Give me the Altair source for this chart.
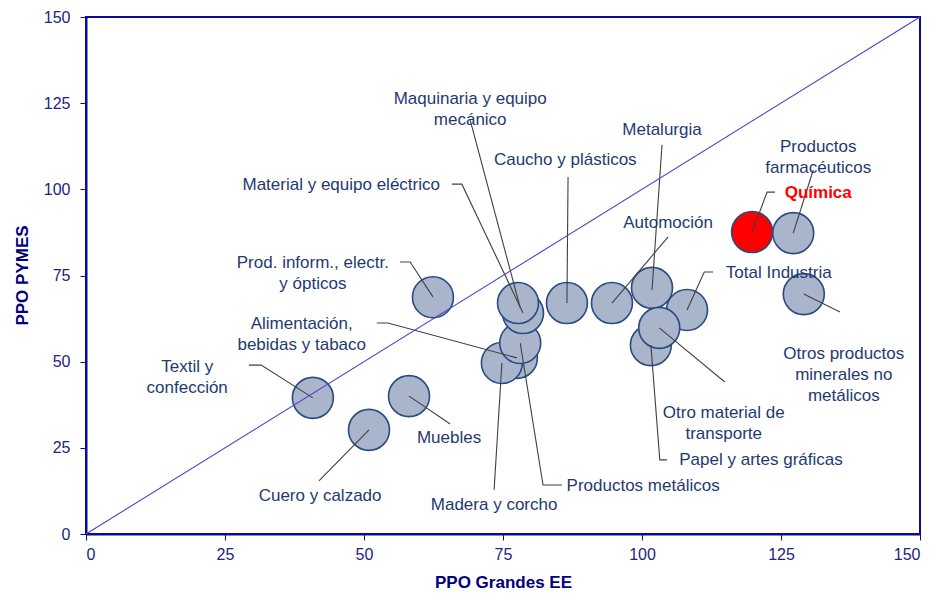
import altair as alt
import pandas as pd

# ---- data ----
sectors = [
    "Textil y confección", "Cuero y calzado", "Muebles", "Prod. inform., electr. y ópticos",
    "Alimentación, bebidas y tabaco", "Madera y corcho", "Productos metálicos",
    "Material y equipo eléctrico", "Maquinaria y equipo mecánico", "Caucho y plásticos",
    "Automoción", "Papel y artes gráficas", "Total Industria", "Metalurgia",
    "Otro material de transporte", "Química", "Productos farmacéuticos",
    "Otros productos minerales no metálicos",
]
ppo_grandes = [40.8, 50.9, 58.1, 62.4, 77.5, 74.8, 78.1, 78.6, 77.7, 86.5,
               94.6, 101.6, 108.1, 101.8, 103.1, 119.8, 127.2, 129.1]
ppo_pymes = [39.5, 30.2, 40.0, 68.7, 51.1, 49.6, 55.4, 64.1, 67.0, 67.0,
             67.0, 54.8, 65.0, 71.4, 59.8, 87.6, 87.3, 69.6]

label_text = [
    "Textil y\nconfección", "Cuero y calzado", "Muebles", "Prod. inform., electr.\ny ópticos",
    "Alimentación,\nbebidas y tabaco", "Madera y corcho", "Productos metálicos",
    "Material y equipo eléctrico", "Maquinaria y equipo\nmecánico", "Caucho y plásticos",
    "Automoción", "Papel y artes gráficas", "Total Industria", "Metalurgia",
    "Otro material de\ntransporte", "Química", "Productos\nfarmacéuticos",
    "Otros productos\nminerales no\nmetálicos",
]
label_x = [18.2, 42.1, 65.3, 40.8, 38.8, 73.4, 100.2, 45.9, 69.1, 86.2,
           104.7, 121.4, 124.6, 103.6, 114.7, 131.7, 131.7, 136.3]
label_y = [48.5, 11.0, 27.9, 78.6, 60.9, 8.4, 13.9, 101.3, 126.2, 108.5,
           90.2, 21.5, 75.7, 117.2, 35.1, 98.9, 112.3, 52.2]

# leader lines (label end -> bubble), in data units
leader_x = [
    [29.3, 31.5, 40.8], [41.9, 50.9], [65.5, 58.1], [56.5, 58.3, 62.4],
    [52.3, 54.3, 77.5], [73.4, 74.8], [85.6, 82.2, 78.1], [65.8, 67.6, 78.6],
    [69.1, 78.1], [86.7, 86.5], [104.7, 94.6], [104.5, 103.2, 101.6],
    [112.8, 111.2, 108.1], [103.6, 101.8], [114.9, 103.1], [123.9, 122.5, 119.8],
    [130.8, 127.2], [135.6, 129.1],
]
leader_y = [
    [49.0, 49.0, 39.5], [15.4, 30.2], [31.9, 40.0], [78.9, 78.9, 68.8],
    [61.2, 61.2, 51.1], [12.8, 49.6], [14.2, 14.2, 55.4], [101.5, 101.5, 64.1],
    [120.1, 65.6], [103.6, 67.0], [86.2, 67.0], [21.5, 21.5, 54.8],
    [76.0, 76.0, 65.0], [112.9, 70.8], [44.1, 59.8], [99.2, 99.2, 87.6],
    [105.6, 87.3], [64.4, 69.6],
]

diag_x = [0, 150]
diag_y = [0, 150]
tick_values = [0, 25, 50, 75, 100, 125, 150]

# ---- tables ----
bubbles = pd.DataFrame({
    "sector": sectors, "x": ppo_grandes, "y": ppo_pymes,
    "highlight": [s == "Química" for s in sectors],
    "order": list(range(len(sectors))),
})
labels = pd.DataFrame({
    "sector": sectors, "text": label_text, "x": label_x, "y": label_y,
})
labels_plain = labels[labels["sector"] != "Química"]
labels_hl = labels[labels["sector"] == "Química"]

rows = []
for s, xs, ys in zip(sectors, leader_x, leader_y):
    for i, (a, b) in enumerate(zip(xs, ys)):
        rows.append({"sector": s, "i": i, "x": a, "y": b})
leaders = pd.DataFrame(rows)
diag = pd.DataFrame({"x": diag_x, "y": diag_y})

AXIS_BLUE = "#0A0A9A"
TEXT_NAVY = "#1F3A70"
FONT = "Liberation Sans"

xscale = alt.Scale(domain=[0, 150], nice=False, zero=False)
yscale = alt.Scale(domain=[0, 150], nice=False, zero=False)

xaxis = alt.Axis(
    title="PPO Grandes EE", values=tick_values, grid=False,
    domainColor=AXIS_BLUE, domainWidth=2, tickColor=AXIS_BLUE, tickSize=6,
    labelColor="#23237F", labelFontSize=16, labelFont=FONT, labelPadding=6,
    titleColor="#000080", titleFontSize=17, titleFont=FONT, titleFontWeight="bold",
    titleX=417, titleY=48, titleBaseline="middle", titleAlign="center",
)
yaxis = alt.Axis(
    title="PPO PYMES", values=tick_values, grid=False,
    domainColor=AXIS_BLUE, domainWidth=2, tickColor=AXIS_BLUE, tickSize=6,
    labelColor="#23237F", labelFontSize=16, labelFont=FONT, labelPadding=10,
    titleColor="#000080", titleFontSize=17, titleFont=FONT, titleFontWeight="bold",
    titleX=-64, titleY=258, titleAngle=270, titleBaseline="middle", titleAlign="center",
)

base_x = alt.X("x:Q", scale=xscale, axis=xaxis)
base_y = alt.Y("y:Q", scale=yscale, axis=yaxis)

bubble_layer = alt.Chart(bubbles).mark_circle(
    size=1680, opacity=1, stroke="#2A4A82", strokeWidth=1.6
).encode(
    x=base_x, y=base_y,
    color=alt.condition("datum.highlight", alt.value("#FF0000"), alt.value("#A9B5CA")),
    order=alt.Order("order:Q"),
)

leader_layer = alt.Chart(leaders).mark_line(color="#404040", strokeWidth=1.1).encode(
    x=alt.X("x:Q", scale=xscale), y=alt.Y("y:Q", scale=yscale),
    detail="sector:N", order="i:Q",
)

diag_layer = alt.Chart(diag).mark_line(color="#4A46C8", strokeWidth=1.1).encode(
    x=alt.X("x:Q", scale=xscale), y=alt.Y("y:Q", scale=yscale),
)

text_layer = alt.Chart(labels_plain).mark_text(
    font=FONT, fontSize=17, lineBreak="\n", lineHeight=21,
    align="center", baseline="middle", color=TEXT_NAVY,
).encode(
    x=alt.X("x:Q", scale=xscale), y=alt.Y("y:Q", scale=yscale),
    text="text:N",
)

text_hl = alt.Chart(labels_hl).mark_text(
    font=FONT, fontSize=17, fontWeight="bold",
    align="center", baseline="middle", color="#FF0000",
).encode(
    x=alt.X("x:Q", scale=xscale), y=alt.Y("y:Q", scale=yscale),
    text="text:N",
)

chart = alt.layer(bubble_layer, leader_layer, diag_layer, text_layer, text_hl).properties(
    width=834, height=517,
    autosize=alt.AutoSizeParams(type="none"),
    padding={"left": 78, "top": 9, "right": 9, "bottom": 58},
    background="white",
).configure_view(stroke=AXIS_BLUE, strokeWidth=2)

chart.save("out.html", embed_options={"renderer": "svg", "actions": False})
